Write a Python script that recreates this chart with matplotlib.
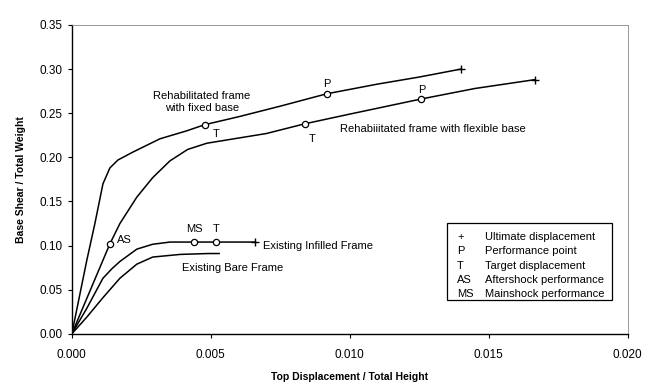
import matplotlib.pyplot as plt
from matplotlib.patches import Rectangle

plt.rcParams['font.family'] = ['Liberation Sans', 'DejaVu Sans']

# pushover curves (top displacement / height, base shear / weight)
fixed_x = [0.0, 0.00054, 0.00083, 0.00112, 0.00137, 0.00166, 0.0022, 0.00317, 0.00413, 0.00478, 0.0060, 0.0075, 0.00917, 0.0110, 0.0125, 0.0140]
fixed_y = [0.0, 0.0835, 0.125, 0.170, 0.188, 0.197, 0.206, 0.221, 0.230, 0.237, 0.246, 0.258, 0.272, 0.283, 0.291, 0.300]

flex_x = [0.0, 0.00137, 0.00173, 0.00234, 0.00291, 0.00353, 0.00417, 0.00486, 0.0070, 0.00838, 0.0100, 0.01255, 0.0145, 0.01665]
flex_y = [0.0, 0.102, 0.125, 0.155, 0.177, 0.196, 0.209, 0.216, 0.227, 0.238, 0.249, 0.266, 0.278, 0.288]

infill_x = [0.0, 0.00054, 0.00112, 0.00145, 0.00173, 0.00234, 0.00291, 0.00353, 0.0044, 0.0052, 0.0066]
infill_y = [0.0, 0.029, 0.063, 0.074, 0.082, 0.096, 0.1015, 0.104, 0.104, 0.104, 0.104]

bare_x = [0.0, 0.00054, 0.00112, 0.00173, 0.00234, 0.00291, 0.0039, 0.0049, 0.0053]
bare_y = [0.0, 0.019, 0.041, 0.063, 0.079, 0.087, 0.090, 0.091, 0.091]

# marked points
circle_x = [0.00478, 0.00917, 0.00838, 0.01255, 0.00137, 0.0044, 0.0052]
circle_y = [0.237, 0.272, 0.238, 0.266, 0.102, 0.104, 0.104]
ult_x = [0.0140, 0.01665, 0.0066]
ult_y = [0.300, 0.288, 0.104]

legend_sym = ['+', 'P', 'T', 'AS', 'MS']
legend_txt = ['Ultimate displacement', 'Performance point', 'Target displacement',
              'Aftershock performance', 'Mainshock performance']

fig, ax = plt.subplots(figsize=(6.65, 3.9), dpi=100)
fig.subplots_adjust(left=0.108, right=0.944, top=0.936, bottom=0.144)

for xs, ys in [(fixed_x, fixed_y), (flex_x, flex_y), (infill_x, infill_y), (bare_x, bare_y)]:
    ax.plot(xs, ys, color='black', lw=1.1)

ax.plot(circle_x, circle_y, 'o', ms=4.5, mfc='white', mec='black', mew=0.9)
ax.plot(ult_x, ult_y, '+', ms=6, color='black', mew=1.0)

fs = 8
ax.text(0.00468, 0.263, 'Rehabilitated frame\nwith fixed base', ha='center', va='center', fontsize=fs)
ax.text(0.00518, 0.227, 'T', ha='center', va='center', fontsize=fs)
ax.text(0.00917, 0.283, 'P', ha='center', va='center', fontsize=fs)
ax.text(0.00863, 0.221, 'T', ha='center', va='center', fontsize=fs)
ax.text(0.0126, 0.276, 'P', ha='center', va='center', fontsize=fs)
ax.text(0.00964, 0.2325, 'Rehabiiitated frame with flexible base', ha='left', va='center', fontsize=fs)
ax.text(0.00162, 0.106, 'AS', ha='left', va='center', fontsize=fs)
ax.text(0.0044, 0.1185, 'MS', ha='center', va='center', fontsize=fs)
ax.text(0.0052, 0.1185, 'T', ha='center', va='center', fontsize=fs)
ax.text(0.00687, 0.100, 'Existing Infilled Frame', ha='left', va='center', fontsize=fs)
ax.text(0.00396, 0.0745, 'Existing Bare Frame', ha='left', va='center', fontsize=fs)

# legend box drawn by hand
ax.add_patch(Rectangle((0.674, 0.110), 0.2985, 0.249, transform=ax.transAxes,
                       fill=False, ec='black', lw=0.9))
for i, (s, t) in enumerate(zip(legend_sym, legend_txt)):
    yy = 0.314 - i * 0.0465
    ax.text(0.693, yy, s, transform=ax.transAxes, ha='left', va='center', fontsize=fs)
    ax.text(0.743, yy, t, transform=ax.transAxes, ha='left', va='center', fontsize=fs)

ax.set_xlim(0, 0.020)
ax.set_ylim(0, 0.35)
ax.set_xticks([0.0, 0.005, 0.010, 0.015, 0.020])
ax.set_xticklabels(['0.000', '0.005', '0.010', '0.015', '0.020'])
ax.set_yticks([0.0, 0.05, 0.10, 0.15, 0.20, 0.25, 0.30, 0.35])
ax.set_yticklabels(['0.00', '0.05', '0.10', '0.15', '0.20', '0.25', '0.30', '0.35'])
ax.tick_params(labelsize=8.5, length=3, width=0.8)
ax.tick_params(axis='x', pad=8)

for side in ['top', 'right']:
    ax.spines[side].set_color('#888888')
    ax.spines[side].set_linewidth(0.6)
    ax.spines[side].set_linestyle((0, (2, 1)))
for side in ['left', 'bottom']:
    ax.spines[side].set_linewidth(1.0)

ax.set_xlabel('Top Displacement / Total Height', fontsize=7.5, fontweight='bold', labelpad=8)
ax.set_ylabel('Base Shear / Total Weight', fontsize=7.5, fontweight='bold', labelpad=10)

plt.savefig('out.png', dpi=100)
